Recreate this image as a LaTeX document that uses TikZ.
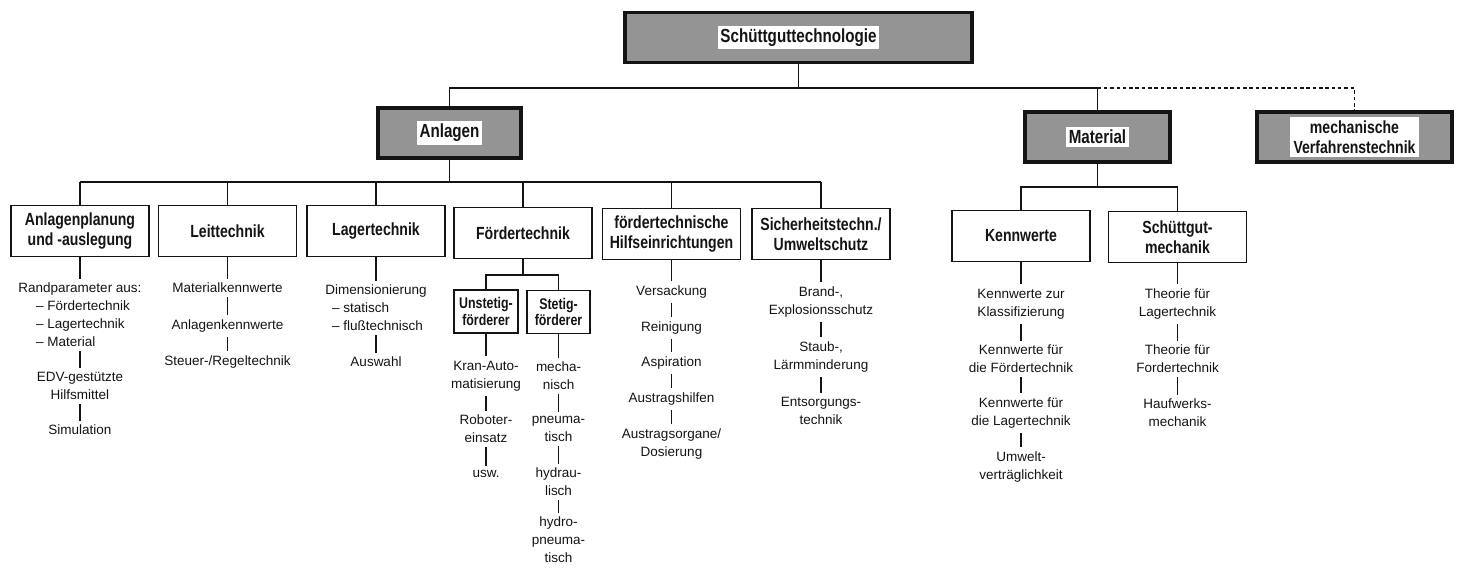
\documentclass[tikz,border=0pt]{standalone}
\usepackage{fontspec}
\setmainfont{Liberation Sans}
\newfontfamily\boxfont{Liberation Sans}[FakeStretch=0.8, UprightFont=*-Bold]
\definecolor{ink}{gray}{0.08}
\definecolor{stipple}{gray}{0.58}

\tikzset{
  topbox/.style={draw=ink, line width=2.6pt, fill=stipple, minimum height=1.25cm},
  toplabel/.style={fill=white, inner sep=2pt, align=center, text=ink, font=\boxfont\fontsize{13.5}{15}\selectfont},
  catbox/.style={draw=ink, line width=1.3pt, fill=white, minimum width=3.45cm, minimum height=1.275cm, inner sep=2pt, align=center, text=ink, font=\boxfont\fontsize{12.5}{14.5}\selectfont},
  subbox/.style={draw=ink, line width=1.1pt, minimum height=1.075cm, inner sep=1pt, align=center, text=ink, font=\boxfont\fontsize{11}{12}\selectfont},
  item/.style={align=center, inner xsep=1pt, inner ysep=3pt, text=ink, font=\fontsize{9.6}{12.8}\selectfont},
  link/.style={draw=ink, line width=0.95pt},
}

\begin{document}
\begin{tikzpicture}[x=0.025cm, y=-0.025cm]
  \useasboundingbox (0,0) rectangle (1457,567);

  \node[topbox, minimum width=8.675cm, label={[toplabel]center:Schüttguttechnologie}] (root) at (798.5,37.5) {};
  \node[topbox, minimum width=3.575cm, label={[toplabel]center:Anlagen}] (anl) at (449.5,133) {};
  \node[topbox, minimum width=3.625cm, label={[toplabel]center:Material}] (mat) at (1097.5,137) {};
  \node[topbox, minimum width=4.875cm, label={[toplabel, inner sep=2.5pt, font=\boxfont\fontsize{12.5}{14.5}\selectfont]center:{mechanische\\Verfahrenstechnik}}] (mvt) at (1354.5,137) {};

  \coordinate (bus1) at (0,88);
  \coordinate (bus2) at (0,182);
  \coordinate (bus3) at (0,187);
  \coordinate (bus4) at (0,275);

  \node[catbox] (plan)  at (80,231)    {Anlagenplanung\\und -auslegung};
  \node[catbox] (leit)  at (227.5,231) {Leittechnik};
  \node[catbox] (lager) at (376,231)   {Lagertechnik};
  \node[catbox] (foerd) at (523,233)   {Fördertechnik};
  \node[catbox] (hilf)  at (671.5,234) {fördertechnische\\Hilfseinrichtungen};
  \node[catbox] (sich)  at (821,234)   {Sicherheitstechn./\\Umweltschutz};
  \node[catbox] (kenn)  at (1021,236)  {Kennwerte};
  \node[catbox] (sgm)   at (1177.5,237) {Schüttgut-\\mechanik};

  \node[subbox, minimum width=1.6cm]   (unst) at (486,311.5) {Unstetig-\\förderer};
  \node[subbox, minimum width=1.575cm] (stet) at (558.5,312) {Stetig-\\förderer};

  \node[item, align=left] (p1) at (80,315) {Randparameter aus:\\\hspace*{1.3em}– Fördertechnik\\\hspace*{1.3em}– Lagertechnik\\\hspace*{1.3em}– Material};
  \node[item] (p2) at (80,386) {EDV-gestützte\\Hilfsmittel};
  \node[item] (p3) at (80,430) {Simulation};

  \node[item] (l1) at (227.5,288) {Materialkennwerte};
  \node[item] (l2) at (227.5,326) {Anlagenkennwerte};
  \node[item] (l3) at (227.5,362) {Steuer-/Regeltechnik};

  \node[item, align=left] (g1) at (376,308) {Dimensionierung\\\hspace*{0.5em}– statisch\\\hspace*{0.5em}– flußtechnisch};
  \node[item] (g2) at (376,362) {Auswahl};

  \node[item] (u1) at (486,376) {Kran-Auto-\\matisierung};
  \node[item] (u2) at (486,429) {Roboter-\\einsatz};
  \node[item] (u3) at (486,474) {usw.};

  \node[item] (s1) at (558.5,376) {mecha-\\nisch};
  \node[item] (s2) at (558.5,429) {pneuma-\\tisch};
  \node[item] (s3) at (558.5,482) {hydrau-\\lisch};
  \node[item] (s4) at (558.5,540) {hydro-\\pneuma-\\tisch};

  \node[item] (h1) at (671.5,292) {Versackung};
  \node[item] (h2) at (671.5,328) {Reinigung};
  \node[item] (h3) at (671.5,363) {Aspiration};
  \node[item] (h4) at (671.5,399) {Austragshilfen};
  \node[item] (h5) at (671.5,444) {Austragsorgane/\\Dosierung};

  \node[item] (c1) at (821,302) {Brand-,\\Explosionsschutz};
  \node[item] (c2) at (821,357) {Staub-,\\Lärmminderung};
  \node[item] (c3) at (821,411) {Entsorgungs-\\technik};

  \node[item] (k1) at (1021,304) {Kennwerte zur\\Klassifizierung};
  \node[item] (k2) at (1021,359) {Kennwerte für\\die Fördertechnik};
  \node[item] (k3) at (1021,413) {Kennwerte für\\die Lagertechnik};
  \node[item] (k4) at (1021,467) {Umwelt-\\verträglichkeit};

  \node[item] (t1) at (1177.5,304) {Theorie für\\Lagertechnik};
  \node[item] (t2) at (1177.5,359) {Theorie für\\Fordertechnik};
  \node[item] (t3) at (1177.5,413) {Haufwerks-\\mechanik};

  \draw[link] (root.south) -- (root |- bus1);
  \draw[link] (anl.north) |- (root |- bus1) -| (mat.north);
  \draw[link, dash pattern=on 2.5pt off 2pt] (mat |- bus1) -| (mvt.north);

  \draw[link] (anl.south) -- (anl |- bus2);
  \draw[link] (plan |- bus2) -- (sich |- bus2);
  \foreach \n in {plan,leit,lager,foerd,hilf,sich}
    \draw[link] (\n.north) -- (\n |- bus2);

  \draw[link] (mat.south) -- (mat |- bus3);
  \draw[link] (kenn.north) |- (mat |- bus3) -| (sgm.north);

  \draw[link] (foerd.south) -- (foerd |- bus4);
  \draw[link] (unst.north) |- (foerd |- bus4) -| (stet.north);

  \foreach \a/\b in {plan/p1, p1/p2, p2/p3, leit/l1, l1/l2, l2/l3, lager/g1, g1/g2,
                     unst/u1, u1/u2, u2/u3, stet/s1, s1/s2, s2/s3, s3/s4,
                     hilf/h1, h1/h2, h2/h3, h3/h4, h4/h5, sich/c1, c1/c2, c2/c3,
                     kenn/k1, k1/k2, k2/k3, k3/k4, sgm/t1, t1/t2, t2/t3}
    \draw[link] (\a.south) -- (\b.north);
\end{tikzpicture}
\end{document}
